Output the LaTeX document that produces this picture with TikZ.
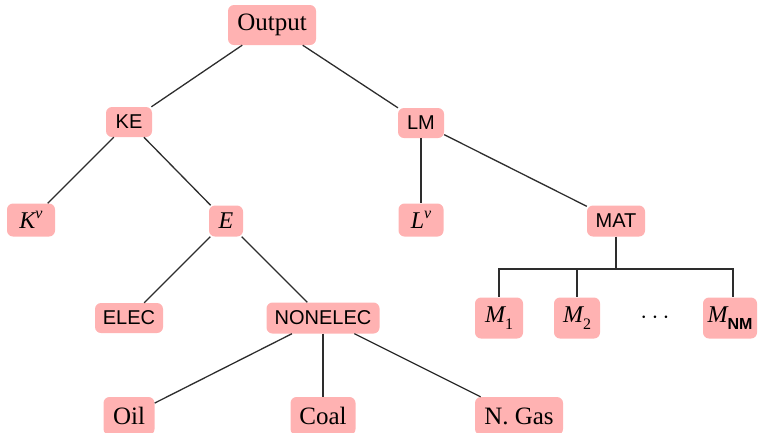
\documentclass[tikz,border=0pt]{standalone}
\usepackage{fontspec}
\setmainfont{Liberation Serif}
\setsansfont{Liberation Sans}
\definecolor{boxpink}{RGB}{255,178,178}
\definecolor{linegray}{RGB}{45,45,45}
\newcommand{\mysup}[1]{\raisebox{0.42em}{\fontsize{16}{16}\selectfont\itshape #1}}
\newcommand{\mysub}[1]{\raisebox{-0.28em}{\fontsize{16}{16}\selectfont #1}}
\begin{document}
\begin{tikzpicture}[x=1pt,y=-1pt,
  box/.style={fill=boxpink, rounded corners=6pt, inner sep=0pt, text=black},
  sz/.style 2 args={minimum width=#1pt, minimum height=#2pt},
  sf/.style={font=\fontsize{20}{24}\sffamily},
  rm/.style={font=\fontsize{25}{30}\rmfamily},
  mt/.style={font=\fontsize{24}{28}\rmfamily\itshape},
  conn/.style={draw=linegray, line width=1.3pt}]
\useasboundingbox (0,0) rectangle (762,432);

\node[box,rm,sz={88}{40}] (out) at (272,25) {Output};
\node[box,sf,sz={46}{30}] (ke) at (129,122) {KE};
\node[box,sf,sz={46}{30}] (lm) at (421,123) {LM};
\node[box,mt,sz={48}{33}] (kv) at (31,220) {K\mysup{v}};
\node[box,mt,sz={34}{31}] (e) at (226,221) {E};
\node[box,mt,sz={45}{33}] (lv) at (421,220) {L\mysup{v}};
\node[box,sf,sz={58}{31}] (mat) at (616,221) {MAT};
\node[box,sf,sz={68}{30}] (elec) at (129,318) {ELEC};
\node[box,sf,sz={113}{31}] (nonelec) at (323,318) {NONELEC};
\node[box,mt,sz={48}{41}] (m1) at (499,318) {M\mysub{\upshape 1}};
\node[box,mt,sz={46}{41}] (m2) at (577,318) {M\mysub{\upshape 2}};
\node[font=\fontsize{24}{28}\rmfamily] (dots) at (655,318) {$\cdots$};
\node[box,mt,sz={54}{41}] (mnm) at (730,318) {M\mysub{\sffamily\bfseries\upshape NM}};
\node[box,rm,sz={51}{38}] (oil) at (129,416) {Oil};
\node[box,rm,sz={65}{38}] (coal) at (323,416) {Coal};
\node[box,rm,sz={88}{38}] (ngas) at (519,416) {N. Gas};

\coordinate (bus) at (616,269);

\draw[conn] (out) -- (ke);
\draw[conn] (out) -- (lm);
\draw[conn] (ke) -- (kv);
\draw[conn] (ke) -- (e);
\draw[conn] (lm) -- (lv);
\draw[conn] (lm) -- (mat);
\draw[conn] (e) -- (elec);
\draw[conn] (e) -- (nonelec);
\draw[conn] (nonelec) -- (oil);
\draw[conn] (nonelec) -- (coal);
\draw[conn] (nonelec) -- (ngas);
\draw[conn, line width=2pt] (mat.south) -- (bus);
\draw[conn] (bus) -| (m1.north);
\draw[conn] (bus) -| (m2.north);
\draw[conn] (bus) -| ([xshift=3pt]mnm.north);
\end{tikzpicture}
\end{document}
